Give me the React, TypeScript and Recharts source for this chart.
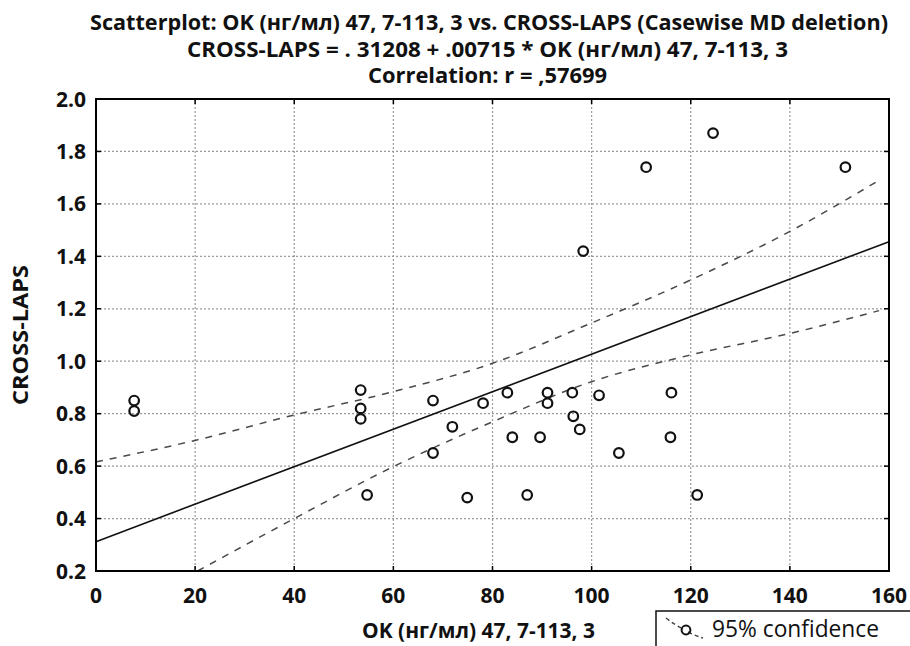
import { ScatterChart, Scatter, XAxis, YAxis, CartesianGrid } from "recharts";

// OK (нг/мл) values and matching CROSS-LAPS values
const okValues = [
  7.7, 7.7, 53.4, 53.4, 53.4, 54.7, 68.0, 68.0, 71.9, 74.9,
  78.1, 83.0, 84.0, 87.0, 89.6, 91.1, 91.1, 96.1, 96.3, 97.6,
  98.3, 101.5, 105.5, 111.0, 116.1, 115.9, 121.3, 124.5, 151.2,
];
const crossLaps = [
  0.85, 0.81, 0.89, 0.82, 0.78, 0.49, 0.85, 0.65, 0.75, 0.48,
  0.84, 0.88, 0.71, 0.49, 0.71, 0.88, 0.84, 0.88, 0.79, 0.74,
  1.42, 0.87, 0.65, 1.74, 0.88, 0.71, 0.49, 1.87, 1.74,
];

const xTicks = [0, 20, 40, 60, 80, 100, 120, 140, 160];
const yTicks = [0.2, 0.4, 0.6, 0.8, 1.0, 1.2, 1.4, 1.6, 1.8, 2.0];
const xDomain = [0, 160];
const yDomain = [0.2, 2.0];

// fitted line: CROSS-LAPS = .31208 + .00715 * OK
const fitX = [0, 160];
const fitY = [0.312, 1.456];

// 95% confidence band
const upperX = [0, 20, 40, 60, 80, 100, 120, 140, 158];
const upperY = [0.616, 0.698, 0.795, 0.884, 0.992, 1.146, 1.31, 1.495, 1.69];
const lowerX = [20.5, 40, 60, 80, 100, 120, 140, 158];
const lowerY = [0.2, 0.4, 0.598, 0.769, 0.922, 1.024, 1.106, 1.193];

const titleLines = [
  "Scatterplot: OK (нг/мл) 47, 7-113, 3 vs. CROSS-LAPS (Casewise MD deletion)",
  "CROSS-LAPS = . 31208 +  .00715 * OK (нг/мл) 47, 7-113, 3",
  "Correlation: r = ,57699",
];
const xTitle = "OK (нг/мл) 47, 7-113, 3";
const yTitle = "CROSS-LAPS";
const legendLabel = "95% confidence";

const points = okValues.map((x, i) => ({ x, y: crossLaps[i] }));
const fitData = fitX.map((x, i) => ({ x, y: fitY[i] }));
const upperData = upperX.map((x, i) => ({ x, y: upperY[i] }));
const lowerData = lowerX.map((x, i) => ({ x, y: lowerY[i] }));

// short inner tick stubs on the top and right edges of the frame
const topTickData = xTicks.map((x) => ({ x, y: yDomain[1], side: "top" }));
const rightTickData = yTicks.map((y) => ({ x: xDomain[1], y, side: "right" }));

const W = 910;
const H = 646;
const MARGIN = { top: 99, right: 21, bottom: 0, left: 0 };
const Y_AXIS_W = 96;
const X_AXIS_H = 75;

const FONT = "'Open Sans', 'DejaVu Sans', sans-serif";
const TICK_LEN = 5;

const BottomTick = (p: any) => (
  <g>
    <line x1={p.x} x2={p.x} y1={p.y} y2={p.y - TICK_LEN} stroke="#000" strokeWidth={1.5} />
    <text x={p.x} y={p.y + 32} textAnchor="middle" fontFamily={FONT} fontWeight={700} fontSize={21} fill="#111">
      {p.payload.value}
    </text>
  </g>
);

const LeftTick = (p: any) => (
  <g>
    <line x1={p.x} x2={p.x + TICK_LEN} y1={p.y} y2={p.y} stroke="#000" strokeWidth={1.5} />
    <text x={p.x - 10} y={p.y} dy="0.36em" textAnchor="end" fontFamily={FONT} fontWeight={700} fontSize={21} fill="#111">
      {Number(p.payload.value).toFixed(1)}
    </text>
  </g>
);

const EdgeTick = (p: any) =>
  p.payload.side === "top" ? (
    <line x1={p.cx} x2={p.cx} y1={p.cy} y2={p.cy + TICK_LEN} stroke="#000" strokeWidth={1.5} />
  ) : (
    <line x1={p.cx} x2={p.cx - TICK_LEN} y1={p.cy} y2={p.cy} stroke="#000" strokeWidth={1.5} />
  );

const Ring = (p: any) => (
  <circle cx={p.cx} cy={p.cy} r={4.8} fill="none" stroke="#111" strokeWidth={2.2} />
);

const NoDot = () => <g />;

const axisLine = { stroke: "#000", strokeWidth: 2 };

export default function App() {
  const plotLeft = MARGIN.left + Y_AXIS_W;
  const plotTop = MARGIN.top;
  const plotW = W - MARGIN.left - MARGIN.right - Y_AXIS_W;
  const plotH = H - MARGIN.top - MARGIN.bottom - X_AXIS_H;
  return (
    <div style={{ position: "absolute", left: 0, top: 0, width: W, height: H, background: "#fff" }}>
      <ScatterChart width={W} height={H} margin={MARGIN}>
        <CartesianGrid stroke="#9a9a9a" strokeDasharray="2 2" strokeWidth={1.2} />
        <XAxis
          dataKey="x"
          type="number"
          domain={xDomain}
          ticks={xTicks}
          height={X_AXIS_H}
          tickSize={0}
          tickMargin={0}
          axisLine={axisLine}
          tick={BottomTick}
        />
        <YAxis
          dataKey="y"
          type="number"
          domain={yDomain}
          ticks={yTicks}
          width={Y_AXIS_W}
          tickSize={0}
          tickMargin={0}
          axisLine={axisLine}
          tick={LeftTick}
        />
        <Scatter
          data={upperData}
          line={{ stroke: "#4a4a4a", strokeWidth: 1.5, strokeDasharray: "7 7" }}
          lineJointType="monotoneX"
          shape={NoDot}
          isAnimationActive={false}
        />
        <Scatter
          data={lowerData}
          line={{ stroke: "#4a4a4a", strokeWidth: 1.5, strokeDasharray: "7 7" }}
          lineJointType="monotoneX"
          shape={NoDot}
          isAnimationActive={false}
        />
        <Scatter
          data={fitData}
          line={{ stroke: "#111", strokeWidth: 1.6 }}
          shape={NoDot}
          isAnimationActive={false}
        />
        <Scatter data={points} shape={Ring} isAnimationActive={false} />
        <Scatter data={[...topTickData, ...rightTickData]} shape={EdgeTick} isAnimationActive={false} />
      </ScatterChart>

      <svg width={W} height={H} style={{ position: "absolute", left: 0, top: 0, pointerEvents: "none" }}>
        {/* plot frame, from the chart's layout */}
        <rect x={plotLeft} y={plotTop} width={plotW} height={plotH} fill="none" stroke="#000" strokeWidth={2} />
        <g fontFamily={FONT} fontWeight={700} fontSize={21} fill="#111" textAnchor="middle" style={{ whiteSpace: "pre" }}>
          <text x={489} y={29.5} textLength={798} lengthAdjust="spacingAndGlyphs">{titleLines[0]}</text>
          <text x={487.5} y={57} textLength={601} lengthAdjust="spacingAndGlyphs">{titleLines[1]}</text>
          <text x={487.5} y={83} textLength={239} lengthAdjust="spacingAndGlyphs">{titleLines[2]}</text>
          <text x={478.5} y={638} textLength={233} lengthAdjust="spacingAndGlyphs">{xTitle}</text>
          <text x={28} y={335} transform="rotate(-90 28 335)" textLength={140} lengthAdjust="spacingAndGlyphs">
            {yTitle}
          </text>
        </g>
        <rect x={656} y={611} width={270} height={60} fill="#fff" stroke="#111" strokeWidth={1.5} />
        <path d="M666 618 Q676 626 684 629 M688 632 Q696 636 703 638" fill="none" stroke="#444" strokeWidth={1.5} strokeDasharray="4 3" />
        <circle cx={686} cy={630} r={4.4} fill="none" stroke="#111" strokeWidth={2} />
        <text x={712} y={637} fontFamily={FONT} fontSize={23} fill="#111" textLength={167} lengthAdjust="spacingAndGlyphs">
          {legendLabel}
        </text>
      </svg>
    </div>
  );
}
